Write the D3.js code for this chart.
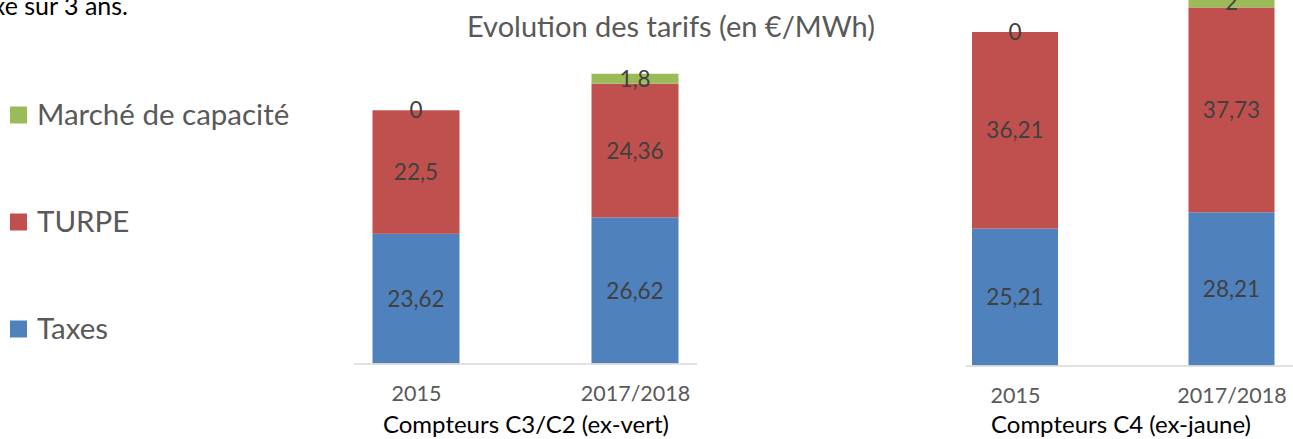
<!DOCTYPE html>
<html><head><meta charset="utf-8">
<script src="https://cdn.jsdelivr.net/npm/d3@7"></script>
<style>body{margin:0;background:#fff;} svg{display:block;font-family:Lato,"Open Sans",sans-serif;}</style>
</head><body>
<svg id="c" width="1293" height="439"></svg>
<script>
const seriesNames = ["Taxes", "TURPE", "Marché de capacité"];
const seriesColors = ["#4f81bd", "#c0504d", "#9bbb59"];
const categories = ["2015", "2017/2018"];
const panelTitles = ["Compteurs C3/C2 (ex-vert)", "Compteurs C4 (ex-jaune)"];
// values per panel, one array per series, one value per category
const c3Taxes = [23.62, 26.62];
const c3Turpe = [22.5, 24.36];
const c3Capacite = [0, 1.8];
const c4Taxes = [25.21, 28.21];
const c4Turpe = [36.21, 37.73];
const c4Capacite = [0, 2];
const labelFmt = v => String(v).replace(".", ",");

const svg = d3.select("#c");

// top-left cropped text
svg.append("text").attr("x", 128).attr("y", 15).attr("text-anchor", "end").attr("font-size", 25).attr("fill", "#000").text("xe sur 3 ans.");

// title
svg.append("text").attr("x", 671).attr("y", 37).attr("text-anchor", "middle")
  .attr("font-size", 29).attr("fill", "#595959").text("Evolution des tarifs (en €/MWh)");

// legend
const legendY = d3.scalePoint().domain(seriesNames.slice().reverse()).range([115, 329]);
const lg = svg.append("g");
seriesNames.forEach((s, i) => {
  const y = legendY(s);
  lg.append("rect").attr("x", 10).attr("y", y - 8.5).attr("width", 17).attr("height", 17).attr("fill", seriesColors[i]);
  lg.append("text").attr("x", 37).attr("y", y + 10).attr("font-size", 29.5).attr("fill", "#595959").text(s);
});

const panels = [
  {data: [c3Taxes, c3Turpe, c3Capacite], title: panelTitles[0], centers: [416, 635], base: 363.5, ppu: 5.49, bw: 87, lineX: [354, 697], titleX: 526},
  {data: [c4Taxes, c4Turpe, c4Capacite], title: panelTitles[1], centers: [1015, 1231.5], base: 365.5, ppu: 5.43, bw: 86, lineX: [966, 1293], titleX: 1121}
];

panels.forEach(p => {
  const g = svg.append("g");
  const x = d3.scalePoint().domain(categories).range(p.centers);
  const y = d3.scaleLinear().domain([0, 60]).range([p.base, p.base - 60 * p.ppu]);
  const rows = categories.map((c, i) => {
    const r = {cat: c};
    seriesNames.forEach((s, k) => r[s] = p.data[k][i]);
    return r;
  });
  const stacked = d3.stack().keys(seriesNames)(rows);
  stacked.forEach((layer, k) => {
    g.selectAll(null).data(layer).enter().append("rect")
      .attr("x", d => x(d.data.cat) - p.bw / 2)
      .attr("width", p.bw)
      .attr("y", d => y(d[1]))
      .attr("height", d => y(d[0]) - y(d[1]))
      .attr("fill", seriesColors[k]);
  });
  stacked.forEach((layer, k) => {
    g.selectAll(null).data(layer).enter().append("text")
      .attr("x", d => x(d.data.cat))
      .attr("y", d => (y(d[0]) + y(d[1])) / 2)
      .attr("dy", "0.36em")
      .attr("text-anchor", "middle")
      .attr("font-size", 22.5)
      .attr("fill", "#404040")
      .text(d => labelFmt(d.data[layer.key]));
  });
  // axis line
  g.append("line").attr("x1", p.lineX[0]).attr("x2", p.lineX[1]).attr("y1", p.base + 0.5).attr("y2", p.base + 0.5)
    .attr("stroke", "#d9d9d9").attr("stroke-width", 1.5);
  const ax = g.append("g").attr("transform", `translate(0,${p.base})`)
    .call(d3.axisBottom(x).tickSize(0).tickPadding(22));
  ax.select(".domain").remove();
  ax.selectAll("text").attr("font-size", 21.5).attr("fill", "#595959").attr("font-family", "Lato");
  g.append("text").attr("x", p.titleX).attr("y", 433).attr("text-anchor", "middle")
    .attr("font-size", 24).attr("fill", "#000").text(p.title);
});
</script>
</body></html>
